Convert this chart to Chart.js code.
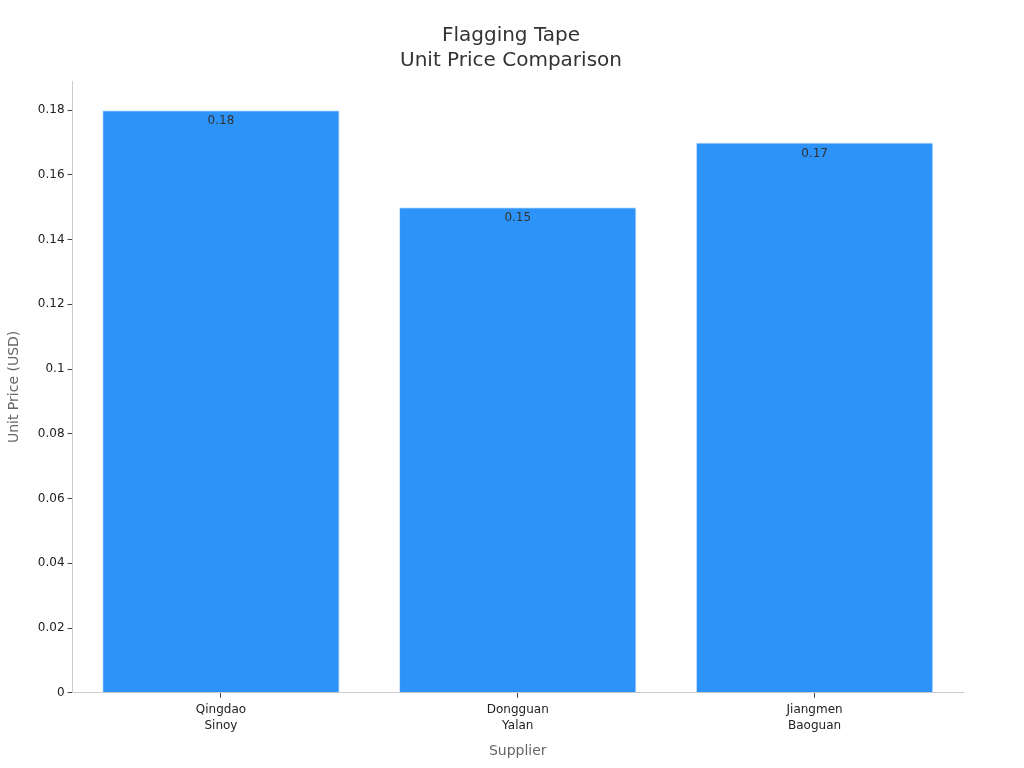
<!DOCTYPE html>
<html>
<head>
<meta charset="utf-8">
<script src="https://cdn.jsdelivr.net/npm/chart.js@4"></script>
<style>
  body { margin: 0; background: #fff; }
  #wrap { width: 1024px; height: 768px; }
</style>
</head>
<body>
<div id="wrap"><canvas id="priceChart" width="1024" height="768"></canvas></div>
<script>
const suppliers = [["Qingdao", "Sinoy"], ["Dongguan", "Yalan"], ["Jiangmen", "Baoguan"]];
const unitPrices = [0.18, 0.15, 0.17];
const yTicks = [0, 0.02, 0.04, 0.06, 0.08, 0.1, 0.12, 0.14, 0.16, 0.18];

Chart.defaults.font.family = "'DejaVu Sans', sans-serif";

// value labels just inside the top of each bar
const barLabels = {
  id: "barLabels",
  afterDatasetsDraw(chart) {
    const ctx = chart.ctx;
    const meta = chart.getDatasetMeta(0);
    ctx.save();
    ctx.font = "12px 'DejaVu Sans', sans-serif";
    ctx.fillStyle = "#333";
    ctx.textAlign = "center";
    ctx.textBaseline = "top";
    meta.data.forEach((bar, i) => {
      ctx.fillText(String(unitPrices[i]), bar.x, bar.y + 5);
    });
    ctx.restore();
  }
};

new Chart(document.getElementById("priceChart"), {
  type: "bar",
  data: {
    labels: suppliers,
    datasets: [{
      data: unitPrices,
      backgroundColor: "#2E93F8",
      borderColor: "#CFE6FD",
      borderWidth: 1,
      categoryPercentage: 0.8,
      barPercentage: 1,
      yAxisID: "y"
    }]
  },
  options: {
    responsive: false,
    devicePixelRatio: 1,
    animation: false,
    layout: { padding: { top: 10, right: 4, bottom: 4, left: 2 } },
    plugins: {
      legend: { display: false },
      tooltip: { enabled: false },
      title: {
        display: true,
        text: ["Flagging Tape", "Unit Price Comparison"],
        color: "#333",
        font: { size: 20, weight: "normal", lineHeight: 1.25 },
        padding: { top: 13, bottom: 8 }
      }
    },
    scales: {
      x: {
        border: { color: "#ccc", width: 1 },
        grid: { display: true, drawOnChartArea: false, tickLength: 5, color: "#444", offset: false },
        ticks: { color: "#222", font: { size: 12, lineHeight: 1.35 }, padding: 4 },
        title: { display: true, text: "Supplier", color: "#666", font: { size: 14 }, padding: { top: 5 } }
      },
      y: {
        min: 0,
        max: 0.189,
        afterBuildTicks(scale) {
          scale.ticks = yTicks.map(v => ({ value: v }));
        },
        border: { color: "#ccc", width: 1 },
        grid: { display: true, drawOnChartArea: false, tickLength: 5, color: "#444" },
        ticks: { color: "#222", font: { size: 12 }, padding: 3, callback: v => String(v) },
        title: { display: true, text: "Unit Price (USD)", color: "#666", font: { size: 14 }, padding: { bottom: 12 } }
      },
      // empty spacer on the right so the plot ends where the reference does
      spacer: {
        position: "right",
        display: true,
        grid: { display: false },
        border: { display: false },
        ticks: { display: false },
        afterFit(scale) { scale.width = 57; }
      }
    }
  },
  plugins: [barLabels]
});
</script>
</body>
</html>
